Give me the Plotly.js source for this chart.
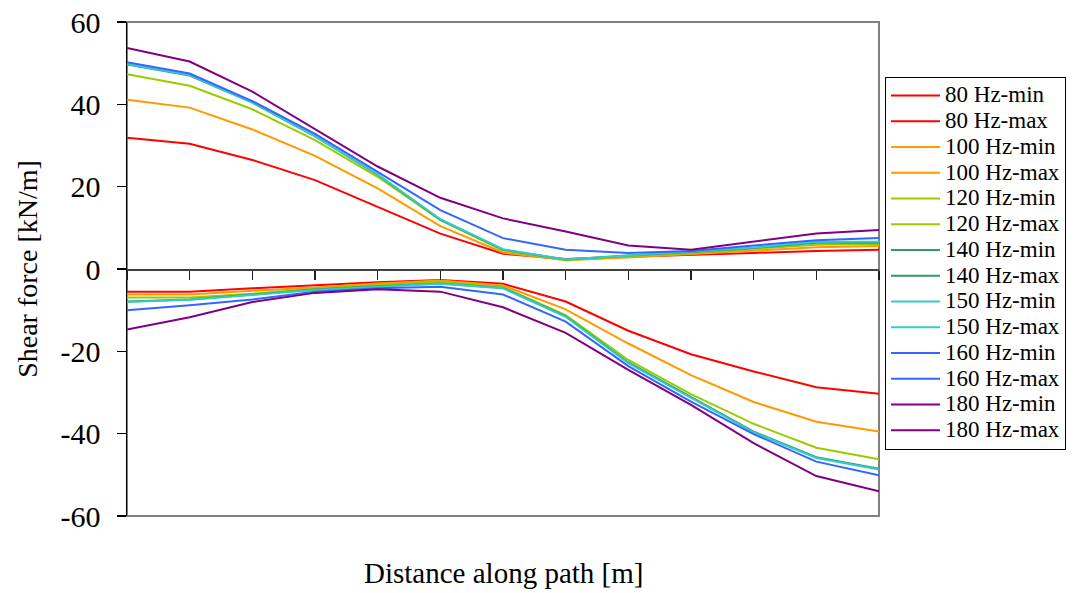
<!DOCTYPE html>
<html>
<head>
<meta charset="utf-8">
<script src="https://cdn.plot.ly/plotly-3.0.1.min.js"></script>
<style>html,body{margin:0;padding:0;background:#fff;}#chart{width:1080px;height:593px;}</style>
</head>
<body>
<div id="chart"></div>
<script>
// Positions along the path (13 measurement points, no labelled values)
const distance = [0, 1, 2, 3, 4, 5, 6, 7, 8, 9, 10, 11, 12];

const seriesNames = ['80 Hz-min','80 Hz-max','100 Hz-min','100 Hz-max','120 Hz-min','120 Hz-max',
  '140 Hz-min','140 Hz-max','150 Hz-min','150 Hz-max','160 Hz-min','160 Hz-max','180 Hz-min','180 Hz-max'];

const min80  = [-5.5, -5.5, -4.7, -4.0, -3.2, -2.7, -3.6, -7.9, -15.0, -20.7, -24.9, -28.7, -30.3];
const max80  = [31.9, 30.4, 26.5, 21.6, 15.1, 8.6, 3.7, 2.4, 3.0, 3.4, 3.9, 4.4, 4.7];
const min100 = [-6.2, -6.2, -5.3, -4.5, -3.5, -2.8, -4.0, -9.8, -18.1, -25.8, -32.3, -37.1, -39.5];
const max100 = [41.1, 39.2, 33.9, 27.5, 19.6, 10.4, 4.0, 2.1, 2.8, 3.6, 4.4, 5.3, 5.6];
const min120 = [-6.9, -6.9, -6.0, -4.8, -3.9, -3.1, -4.4, -11.2, -22.1, -30.4, -37.6, -43.4, -46.2];
const max120 = [47.3, 44.5, 38.8, 31.3, 22.4, 11.9, 4.5, 2.2, 3.1, 3.9, 4.9, 5.9, 6.1];
const min140 = [-7.9, -7.4, -6.2, -5.0, -4.2, -3.5, -4.6, -11.5, -22.7, -31.2, -39.5, -45.7, -48.5];
const max140 = [49.7, 47.0, 40.4, 32.2, 22.9, 12.0, 4.7, 2.3, 3.3, 4.1, 5.1, 6.4, 6.4];
const min150 = [-8.0, -7.5, -6.3, -5.1, -4.3, -3.6, -4.7, -11.6, -22.9, -31.4, -39.7, -45.9, -48.7];
const max150 = [49.8, 47.1, 40.5, 32.3, 23.0, 12.1, 4.8, 2.3, 3.3, 4.2, 5.2, 6.6, 6.6];
const min160 = [-10.0, -8.8, -7.4, -5.5, -4.7, -4.3, -6.2, -12.8, -23.6, -32.2, -40.1, -46.8, -50.1];
const max160 = [50.2, 47.5, 40.8, 32.8, 23.6, 14.3, 7.5, 4.7, 3.9, 4.4, 5.7, 7.0, 7.5];
const min180 = [-14.7, -11.7, -8.0, -5.8, -4.9, -5.5, -9.3, -15.5, -24.5, -33.0, -42.3, -50.3, -54.0];
const max180 = [53.7, 50.4, 43.1, 33.9, 24.9, 17.3, 12.3, 9.1, 5.7, 4.7, 6.6, 8.6, 9.5];

const yTickVals = [-60, -40, -20, 0, 20, 40, 60];
const yTickText = ['-60', '-40', '-20', '0', '20', '40', '60'];

const seriesValues = [min80, max80, min100, max100, min120, max120, min140, max140,
  min150, max150, min160, max160, min180, max180];
const seriesColors = ['#FF0000','#FF0000','#FF9900','#FF9900','#99CC00','#99CC00',
  '#339966','#339966','#33CCCC','#33CCCC','#3366FF','#3366FF','#800080','#800080'];

const FONT = 'Liberation Serif';

const traces = seriesValues.map((vals, i) => ({
  type: 'scatter',
  mode: 'lines',
  x: distance,
  y: vals,
  name: '<span style="font-size:23px">' + seriesNames[i] + '</span>',
  line: {color: seriesColors[i], width: 2}
}));

const layout = {
  width: 1080,
  height: 593,
  margin: {l: 127, r: 201, t: 22, b: 77, pad: 0},
  paper_bgcolor: '#ffffff',
  plot_bgcolor: '#ffffff',
  font: {family: FONT, color: '#000000'},
  showlegend: true,
  legend: {
    x: 1.008, xanchor: 'left',
    y: 0.512, yanchor: 'middle',
    bordercolor: '#000000', borderwidth: 1,
    bgcolor: '#ffffff',
    font: {family: FONT, size: 17.5, color: '#000000'},
    itemwidth: 49,
    tracegroupgap: 0
  },
  xaxis: {
    range: [0, 12],
    anchor: 'free',
    position: 0.5,
    showline: true,
    linecolor: '#404040',
    linewidth: 1.5,
    ticks: 'outside',
    ticklen: 9,
    tickwidth: 1.2,
    tickcolor: '#202020',
    tickvals: distance,
    showticklabels: false,
    showgrid: false,
    zeroline: false,
    fixedrange: true
  },
  yaxis: {
    range: [-60, 60],
    showline: true,
    linecolor: '#000000',
    linewidth: 1.5,
    ticks: 'outside',
    ticklen: 9,
    tickwidth: 1.2,
    tickcolor: '#000000',
    tickvals: yTickVals,
    ticktext: yTickText,
    tickfont: {family: FONT, size: 30, color: '#000000'},
    ticklabelstandoff: 10,
    showgrid: false,
    zeroline: false,
    title: {text: 'Shear force [kN/m]', font: {family: FONT, size: 28, color: '#000000'}, standoff: 14},
    fixedrange: true
  },
  shapes: [{
    type: 'rect', xref: 'paper', yref: 'paper', x0: 0, x1: 1, y0: 0, y1: 1,
    line: {color: '#808080', width: 2}, layer: 'below'
  }],
  annotations: [{
    text: 'Distance along path [m]',
    xref: 'paper', yref: 'paper', x: 0.5, y: -0.115,
    xanchor: 'center', yanchor: 'middle', showarrow: false,
    font: {family: FONT, size: 29, color: '#000000'}
  }]
};

Plotly.newPlot('chart', traces, layout, {displayModeBar: false, staticPlot: true});
</script>
</body>
</html>
